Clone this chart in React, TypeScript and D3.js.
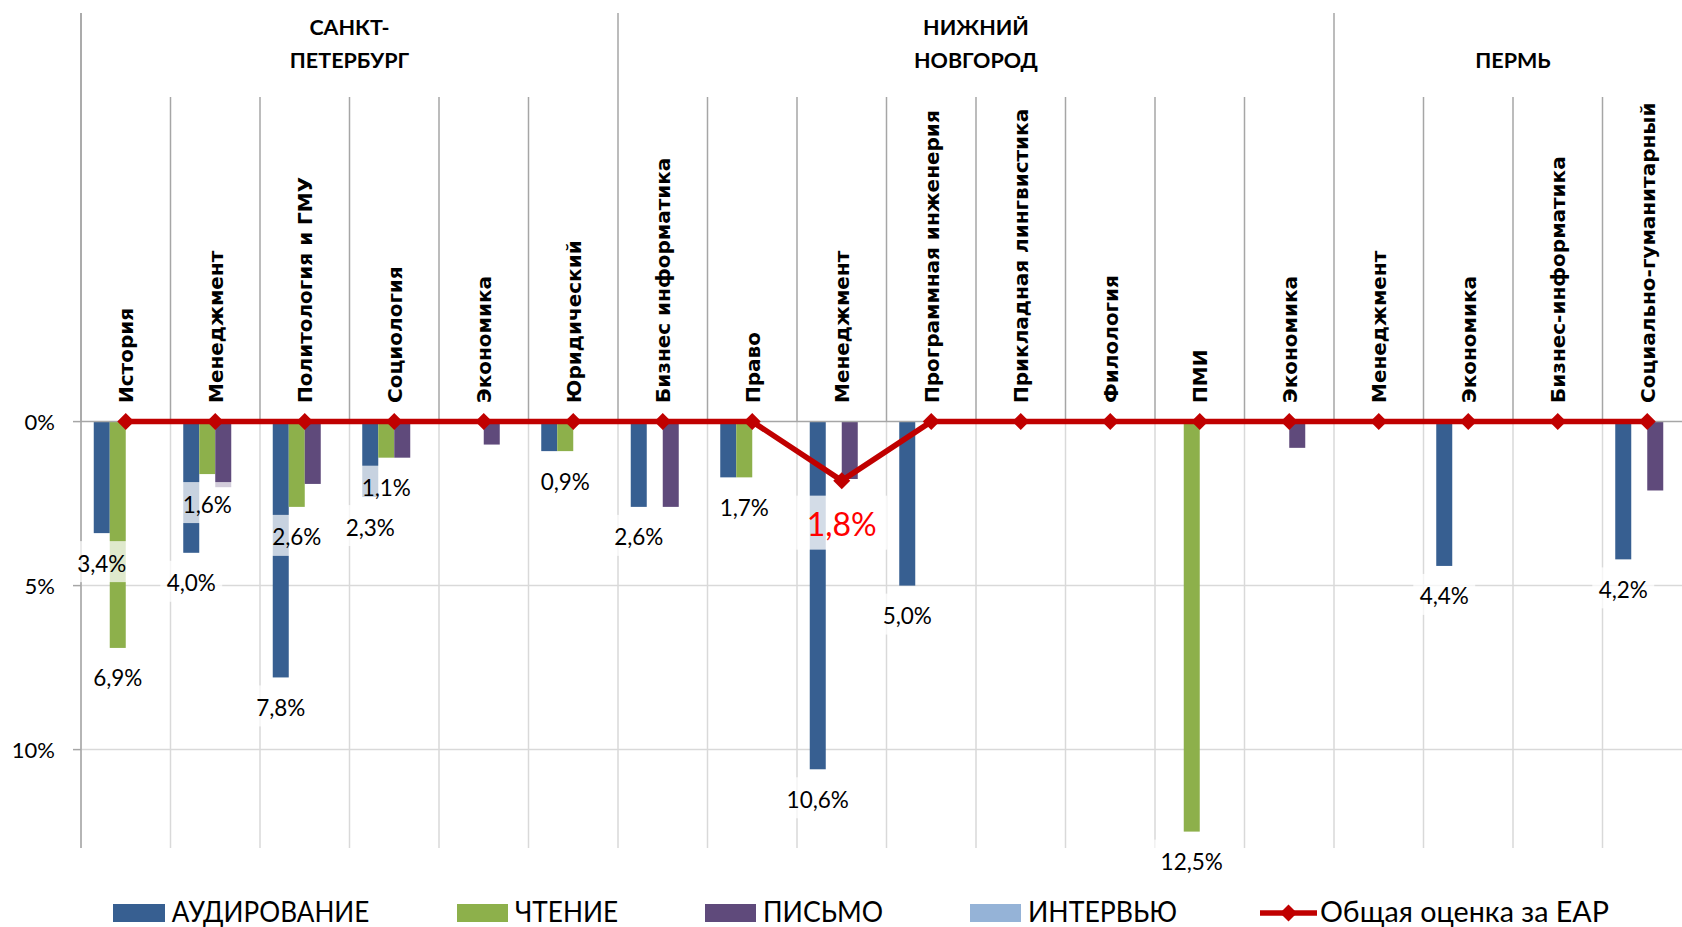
import React from "react";
import * as d3 from "d3";

// ---------- DATA ----------
const categories = [
  "История", "Менеджмент", "Политология и ГМУ", "Социология", "Экономика", "Юридический",
  "Бизнес информатика", "Право", "Менеджмент", "Программная инженерия", "Прикладная лингвистика",
  "Филология", "ПМИ", "Экономика",
  "Менеджмент", "Экономика", "Бизнес-информатика", "Социально-гуманитарный",
];
const cityOfCategory = [0, 0, 0, 0, 0, 0, 1, 1, 1, 1, 1, 1, 1, 1, 2, 2, 2, 2];
const cityNames = [["САНКТ-", "ПЕТЕРБУРГ"], ["НИЖНИЙ", "НОВГОРОД"], ["ПЕРМЬ"]];

const seriesNames = ["АУДИРОВАНИЕ", "ЧТЕНИЕ", "ПИСЬМО", "ИНТЕРВЬЮ"];
const listening = [3.4, 4.0, 7.8, 2.3, 0, 0.9, 2.6, 1.7, 10.6, 5.0, 0, 0, 0, 0, 0, 4.4, 0, 4.2];
const reading = [6.9, 1.6, 2.6, 1.1, 0, 0.9, 0, 1.7, 0, 0, 0, 0, 12.5, 0, 0, 0, 0, 0];
const writing = [0, 2.0, 1.9, 1.1, 0.7, 0, 2.6, 0, 1.75, 0, 0, 0, 0, 0.8, 0, 0, 0, 2.1];
const interview = [0, 0, 0, 0, 0, 0, 0, 0, 0, 0, 0, 0, 0, 0, 0, 0, 0, 0];
const overallName = "Общая оценка за EAP";
const overall = [0, 0, 0, 0, 0, 0, 0, 0, 1.8, 0, 0, 0, 0, 0, 0, 0, 0, 0];

const listeningLabeled = [0, 1, 2, 3, 6, 8, 9, 15, 17];
const readingLabeled = [0, 1, 2, 3, 5, 7, 12];
const overallLabeled = [8];

const yTicks = [0, 5, 10];

// ---------- STYLE ----------
const seriesColors = ["#375F91", "#8DB04B", "#5F4A7B", "#95B3D7"];
const lineColor = "#C00000";
const W = 1682;
const H = 927;
const LATO = "Lato, 'Open Sans', sans-serif";

const charW: Record<string, number> = { ",": 0.24, "%": 0.82 };
function textWidth(t: string, fs: number) {
  let w = 0;
  for (const c of t) w += charW[c] ?? 0.58;
  return w * fs;
}
const fmt = (v: number) => d3.format(".1f")(v).replace(".", ",") + "%";

export default function App() {
  const n = categories.length;
  const x = d3.scaleBand<number>().domain(d3.range(n)).range([81, 81 + n * 89.5]);
  const inner = d3.scaleBand<number>().domain([0, 1, 2, 3]).range([-32, 32]);
  const y = d3.scaleLinear().domain([0, 13]).range([421.6, 848]);
  const y0 = y(0);
  const bw = inner.bandwidth();
  const cx = (i: number) => (x(i) as number) + x.bandwidth() / 2;
  const series = [listening, reading, writing, interview];

  const boundaries = d3.range(n + 1).map((i) => 81 + i * x.bandwidth());
  const groupStarts = d3.range(n + 1).filter(
    (i) => i === 0 || i === n || cityOfCategory[i] !== cityOfCategory[i - 1]
  );

  const line = d3
    .line<number>()
    .x((_, i) => cx(i))
    .y((d) => y(d));

  const dataLabels: { x: number; end: number; text: string }[] = [];
  listeningLabeled.forEach((i) =>
    dataLabels.push({ x: cx(i) + (inner(0) as number) + bw / 2, end: y(listening[i]), text: fmt(listening[i]) })
  );
  readingLabeled.forEach((i) =>
    dataLabels.push({ x: cx(i) + (inner(1) as number) + bw / 2, end: y(reading[i]), text: fmt(reading[i]) })
  );

  const legendLayout = [
    { sx: 113, sw: 52, tx: 171.7, tw: 197.7 },
    { sx: 457, sw: 51, tx: 515, tw: 103 },
    { sx: 705, sw: 51, tx: 763, tw: 120 },
    { sx: 970, sw: 51, tx: 1028, tw: 149 },
  ];
  const legendLine = { x1: 1260, x2: 1317, tx: 1320, tw: 289 };

  const diamond = (px: number, py: number, r: number) =>
    `M${px},${py - r}L${px + r},${py}L${px},${py + r}L${px - r},${py}Z`;

  return (
    <div style={{ position: "absolute", left: 0, top: 0, width: W, height: H, background: "#fff" }}>
      <svg width={W} height={H} style={{ display: "block" }}>
        <rect x={0} y={0} width={W} height={H} fill="#fff" />
        {/* horizontal gridlines */}
        {yTicks.filter((t) => t !== 0).map((t) => (
          <line key={"hg" + t} x1={81} x2={W} y1={y(t)} y2={y(t)} stroke="#D9D9D9" strokeWidth={1.5} />
        ))}
        {/* vertical gridlines below 0 */}
        {boundaries.map((bx, i) => (
          <line key={"vg" + i} x1={bx} x2={bx} y1={y0} y2={y(13)} stroke="#D9D9D9" strokeWidth={1.5} />
        ))}
        {/* category dividers above 0 */}
        {boundaries.map((bx, i) => {
          const isGroup = groupStarts.includes(i);
          return (
            <line key={"cd" + i} x1={bx} x2={bx} y1={isGroup ? 13 : 97} y2={y0} stroke="#A6A6A6" strokeWidth={1.5} />
          );
        })}
        {/* y axis line */}
        <line x1={81} x2={81} y1={13} y2={y(13)} stroke="#A6A6A6" strokeWidth={1.5} />
        {yTicks.map((t) => (
          <line key={"tk" + t} x1={73} x2={81} y1={y(t)} y2={y(t)} stroke="#A6A6A6" strokeWidth={1.5} />
        ))}
        {yTicks.map((t) => (
          <text key={"yl" + t} x={55} y={y(t) + 8} textAnchor="end" fontFamily={LATO} fontSize={22} fill="#000">
            {t + "%"}
          </text>
        ))}
        {/* bars */}
        {series.map((vals, s) =>
          vals.map((v, i) =>
            v > 0 ? (
              <rect
                key={`b${s}-${i}`}
                x={cx(i) + (inner(s) as number)}
                y={y0}
                width={bw}
                height={y(v) - y0}
                fill={seriesColors[s]}
              />
            ) : null
          )
        )}
        {/* 0 axis */}
        <line x1={81} x2={W} y1={y0} y2={y0} stroke="#A6A6A6" strokeWidth={1.5} />
        {/* category labels */}
        {categories.map((c, i) => (
          <text
            key={"cl" + i}
            transform={`translate(${cx(i) + 7.5},${403}) rotate(-90)`}
            textAnchor="start"
            fontFamily="'DejaVu Sans', Verdana, sans-serif"
            fontWeight="bold"
            fontSize={20}
            fill="#000"
          >
            {c}
          </text>
        ))}
        {/* city labels */}
        {cityNames.map((lines, g) => {
          const idx = d3.range(n).filter((i) => cityOfCategory[i] === g);
          const mid = ((x(idx[0]) as number) + (x(idx[idx.length - 1]) as number) + x.bandwidth()) / 2;
          const offs = lines.length === 2 ? [35, 67.7] : [67.7];
          return lines.map((l, k) => (
            <text
              key={`city${g}-${k}`}
              x={mid}
              y={offs[k]}
              textAnchor="middle"
              fontFamily={LATO}
              fontWeight="bold"
              fontSize={21.5}
              fill="#000"
            >
              {l}
            </text>
          ));
        })}
        {/* overall line */}
        <path d={line(overall) || ""} fill="none" stroke={lineColor} strokeWidth={5.5} strokeLinejoin="miter" />
        {overall.map((v, i) => (
          <path key={"dm" + i} d={diamond(cx(i), y(v), 8.5)} fill={lineColor} />
        ))}
        {/* data labels */}
        {dataLabels.map((d, k) => {
          const fs = 22.5;
          const tw = textWidth(d.text, fs);
          return (
            <g key={"dl" + k}>
              <rect x={d.x - tw / 2 - 6} y={d.end + 8} width={tw + 12} height={41} fill="#fff" fillOpacity={0.72} />
              <text x={d.x} y={d.end + 38.5} textAnchor="middle" fontFamily={LATO} fontSize={fs} fill="#000">
                {d.text}
              </text>
            </g>
          );
        })}
        {overallLabeled.map((i) => {
          const fs = 32;
          const tw = textWidth(fmt(overall[i]), fs);
          const py = y(overall[i]);
          return (
            <g key={"ol" + i}>
              <rect x={cx(i) - tw / 2 - 10} y={py + 15} width={tw + 20} height={54} fill="#fff" fillOpacity={0.78} />
              <text x={cx(i)} y={py + 55} textAnchor="middle" fontFamily={LATO} fontSize={fs} fill="#FF0000">
                {fmt(overall[i])}
              </text>
            </g>
          );
        })}
        {/* legend */}
        {seriesNames.map((s, k) => (
          <g key={"lg" + k}>
            <rect x={legendLayout[k].sx} y={904} width={legendLayout[k].sw} height={18} fill={seriesColors[k]} />
            <text
              x={legendLayout[k].tx}
              y={921.7}
              fontFamily={LATO}
              fontSize={28}
              textLength={legendLayout[k].tw}
              lengthAdjust="spacingAndGlyphs"
              fill="#000"
            >
              {s}
            </text>
          </g>
        ))}
        <line x1={legendLine.x1} x2={legendLine.x2} y1={913} y2={913} stroke={lineColor} strokeWidth={5.5} />
        <path d={diamond((legendLine.x1 + legendLine.x2) / 2, 913, 8.5)} fill={lineColor} />
        <text
          x={legendLine.tx}
          y={921.7}
          fontFamily={LATO}
          fontSize={28}
          textLength={legendLine.tw}
          lengthAdjust="spacingAndGlyphs"
          fill="#000"
        >
          {overallName}
        </text>
      </svg>
    </div>
  );
}
